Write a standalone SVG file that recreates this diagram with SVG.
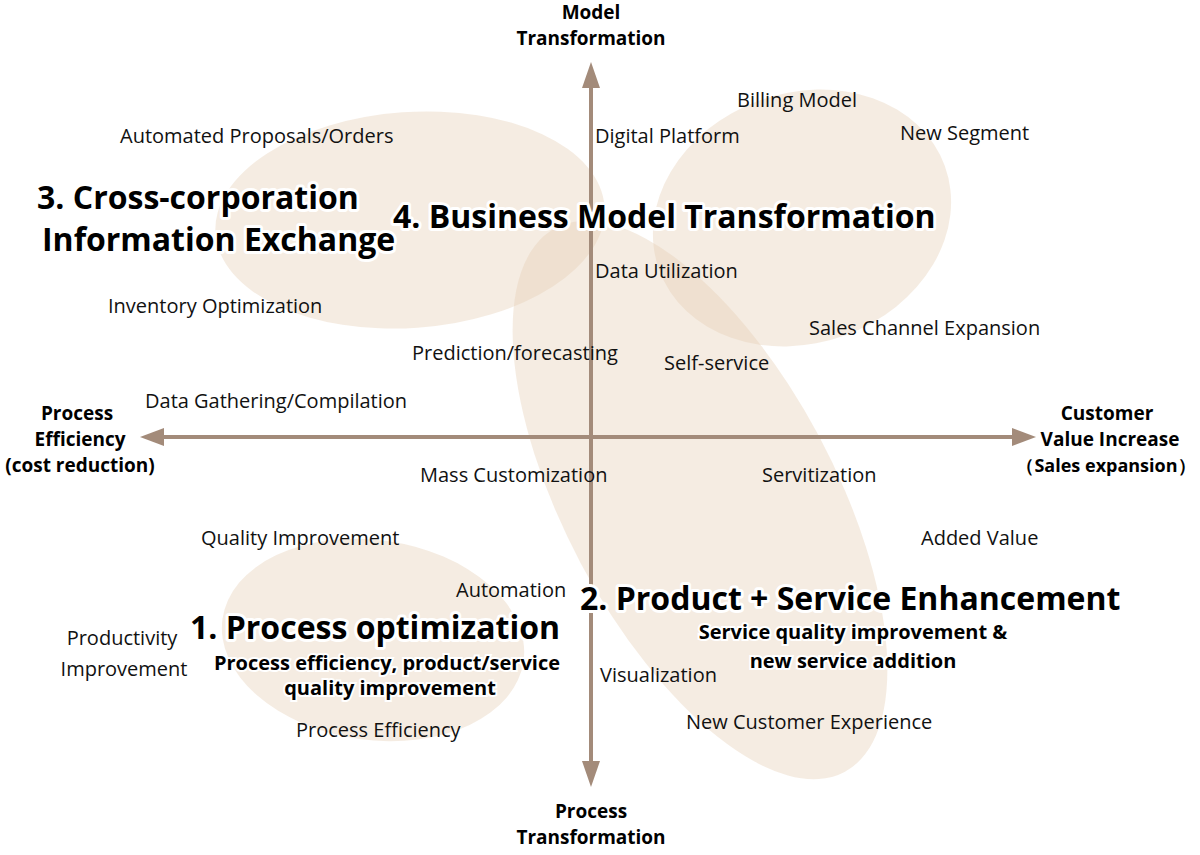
<svg xmlns="http://www.w3.org/2000/svg" width="1200" height="855" viewBox="0 0 1200 855">
<defs>
<style>
.blob{fill:#e6cfb6;fill-opacity:0.4}
.ax{stroke:#a38b7a;stroke-width:4;fill:none}
.t{font-family:"Open Sans","Noto Sans",sans-serif;font-size:20px;fill:#111}
.b{font-family:"Open Sans","Noto Sans",sans-serif;font-size:19px;font-weight:bold;fill:#000;text-anchor:middle}
.h{font-family:"Open Sans","Noto Sans",sans-serif;font-size:32px;font-weight:bold;fill:#000;stroke:#fff;stroke-width:6px;paint-order:stroke;stroke-linejoin:round}
.s{font-family:"Open Sans","Noto Sans",sans-serif;font-size:20px;font-weight:bold;fill:#000;text-anchor:middle;stroke:#fff;stroke-width:4px;paint-order:stroke}
</style>
</defs>
<g id="blobs">
<ellipse id="blob3" class="blob" cx="410" cy="220" rx="195" ry="108" transform="rotate(-4 410 220)"/>
<ellipse id="blob4" class="blob" cx="802" cy="218" rx="152" ry="125" transform="rotate(-20 802 218)"/>
<ellipse id="blob2" class="blob" cx="700" cy="500" rx="308" ry="135" transform="rotate(62 700 500)"/>
<ellipse id="blob1" class="blob" cx="373" cy="640" rx="152" ry="100" transform="rotate(8 373 640)"/>
</g>
<g id="connectors">
<path class="ax" d="M591,780 V85"/>
<path d="M591,62 L582,88 L600,88 z" fill="#a38b7a"/>
<path d="M591,787 L582,761 L600,761 z" fill="#a38b7a"/>
<path class="ax" d="M160,437 H1015"/>
<path d="M140,437 L164,428 L164,446 z" fill="#a38b7a"/>
<path d="M1036,437 L1012,428 L1012,446 z" fill="#a38b7a"/>
</g>
<g id="axis-labels">
<text class="b" x="591" y="19">Model</text><text class="b" x="591" y="45">Transformation</text>
<text class="b" x="591" y="818">Process</text><text class="b" x="591" y="844">Transformation</text>
<text class="b" x="77" y="420">Process</text><text class="b" x="80" y="446">Efficiency</text><text class="b" x="80" y="472">(cost reduction)</text>
<text class="b" x="1107" y="420">Customer</text><text class="b" x="1110" y="446">Value Increase</text><text class="b" x="1106" y="472" style="font-size:18px">（Sales expansion）</text>
</g>
<g id="labels">
<text class="t" x="120" y="143">Automated Proposals/Orders</text>
<text class="t" x="595" y="143">Digital Platform</text>
<text class="t" x="737" y="107">Billing Model</text>
<text class="t" x="900" y="140">New Segment</text>
<text class="t" x="595" y="278">Data Utilization</text>
<text class="t" x="108" y="313">Inventory Optimization</text>
<text class="t" x="809" y="335">Sales Channel Expansion</text>
<text class="t" x="412" y="360">Prediction/forecasting</text>
<text class="t" x="664" y="370">Self-service</text>
<text class="t" x="145" y="408">Data Gathering/Compilation</text>
<text class="t" x="420" y="482">Mass Customization</text>
<text class="t" x="762" y="482">Servitization</text>
<text class="t" x="201" y="545">Quality Improvement</text>
<text class="t" x="921" y="545">Added Value</text>
<text class="t" x="456" y="597">Automation</text>
<text class="t" x="122" y="645" text-anchor="middle">Productivity</text>
<text class="t" x="124" y="676" text-anchor="middle">Improvement</text>
<text class="t" x="600" y="682">Visualization</text>
<text class="t" x="296" y="737">Process Efficiency</text>
<text class="t" x="686" y="729">New Customer Experience</text>
</g>
<g id="headings">
<text class="h" x="37" y="209">3. Cross-corporation</text>
<text class="h" x="42" y="251">Information Exchange</text>
<text class="h" x="393" y="228">4. Business Model Transformation</text>
<text class="h" x="580" y="610">2. Product + Service Enhancement</text>
<text class="s" x="853" y="639">Service quality improvement &amp;</text>
<text class="s" x="853" y="668">new service addition</text>
<text class="h" x="190" y="639">1. Process optimization</text>
<text class="s" x="387" y="670">Process efficiency, product/service</text>
<text class="s" x="390" y="695">quality improvement</text>
</g>
</svg>
